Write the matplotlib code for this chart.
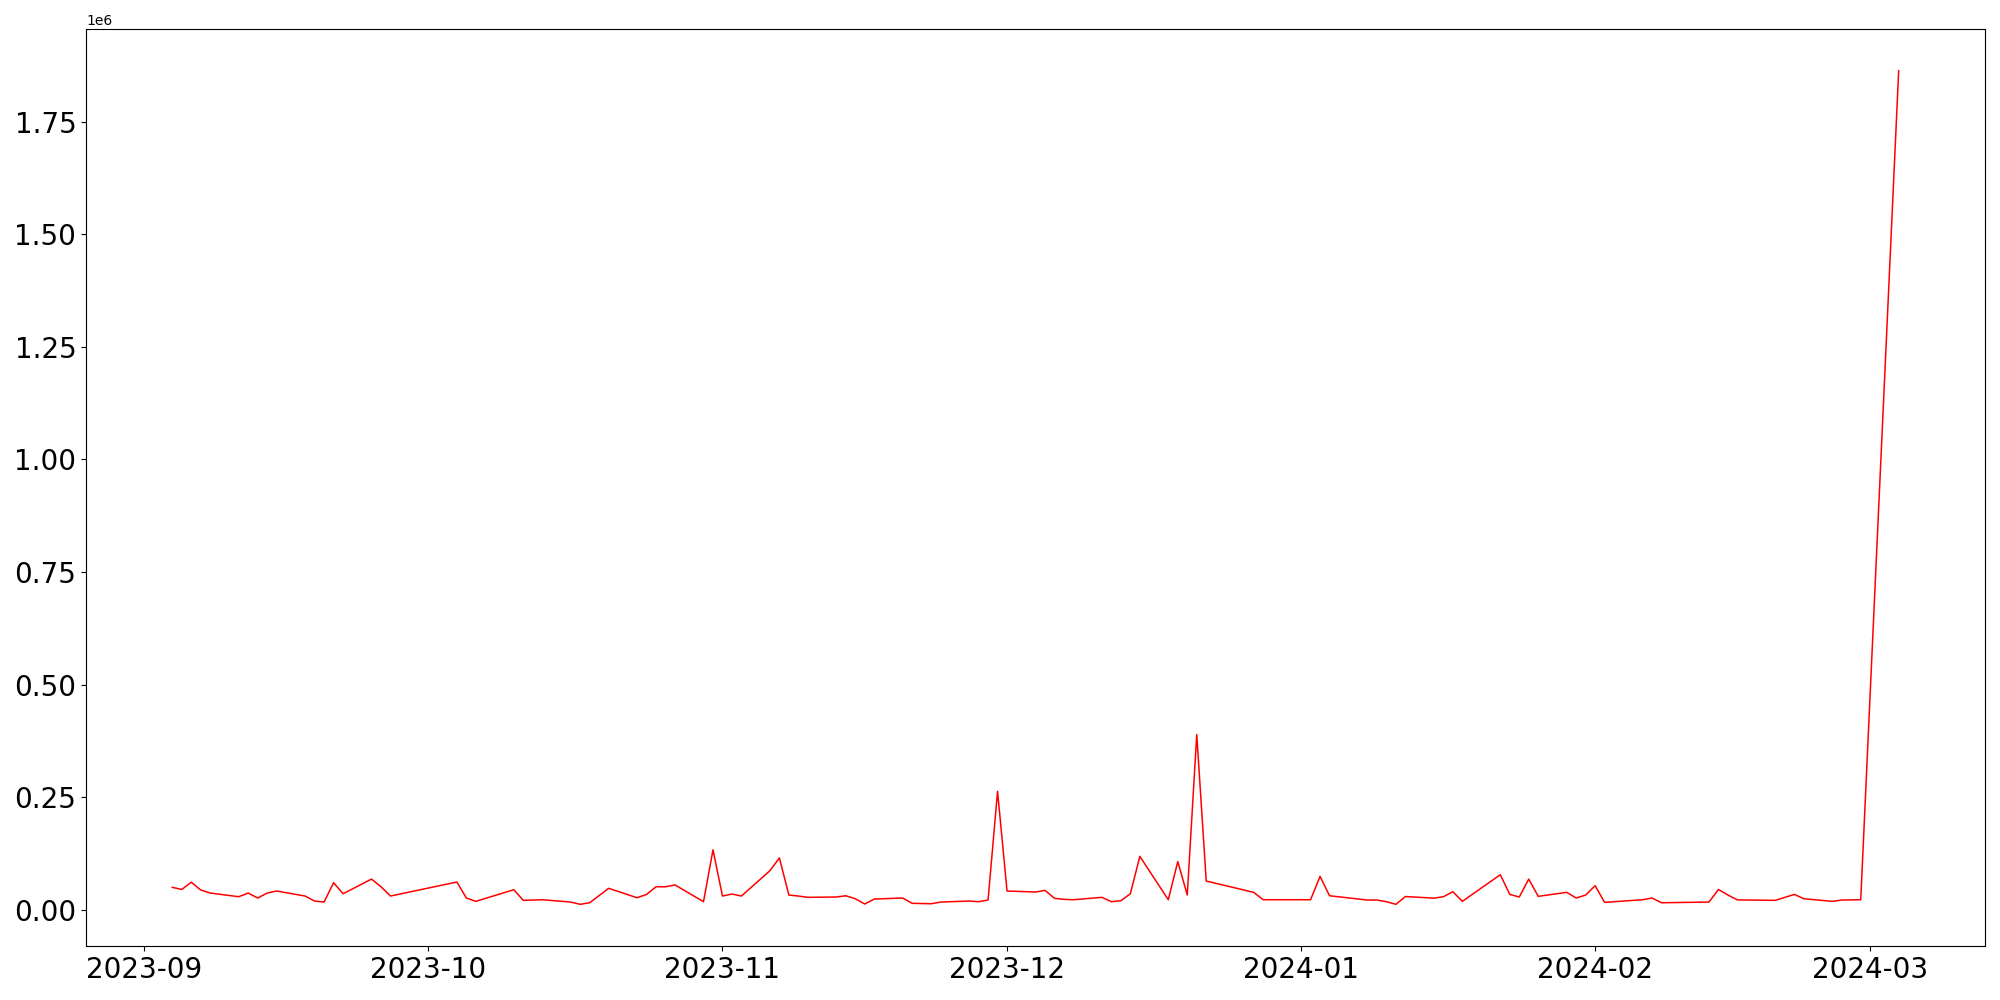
import matplotlib
matplotlib.use("Agg")
import matplotlib.pyplot as plt
import matplotlib.dates as mdates
import pandas as pd

dates = [
    "2023-09-04", "2023-09-05", "2023-09-06", "2023-09-07", "2023-09-08",
    "2023-09-11", "2023-09-12", "2023-09-13", "2023-09-14", "2023-09-15",
    "2023-09-18", "2023-09-19", "2023-09-20", "2023-09-21", "2023-09-22",
    "2023-09-25", "2023-09-26", "2023-09-27", "2023-10-04", "2023-10-05",
    "2023-10-06", "2023-10-10", "2023-10-11", "2023-10-13", "2023-10-16",
    "2023-10-17", "2023-10-18", "2023-10-20", "2023-10-23", "2023-10-24",
    "2023-10-25", "2023-10-26", "2023-10-27", "2023-10-30", "2023-10-31",
    "2023-11-01", "2023-11-02", "2023-11-03", "2023-11-06", "2023-11-07",
    "2023-11-08", "2023-11-09", "2023-11-10", "2023-11-13", "2023-11-14",
    "2023-11-15", "2023-11-16", "2023-11-17", "2023-11-20", "2023-11-21",
    "2023-11-23", "2023-11-24", "2023-11-27", "2023-11-28", "2023-11-29",
    "2023-11-30", "2023-12-01", "2023-12-04", "2023-12-05", "2023-12-06",
    "2023-12-07", "2023-12-08", "2023-12-11", "2023-12-12", "2023-12-13",
    "2023-12-14", "2023-12-15", "2023-12-18", "2023-12-19", "2023-12-20",
    "2023-12-21", "2023-12-22", "2023-12-27", "2023-12-28", "2024-01-02",
    "2024-01-03", "2024-01-04", "2024-01-08", "2024-01-09", "2024-01-10",
    "2024-01-11", "2024-01-12", "2024-01-15", "2024-01-16", "2024-01-17",
    "2024-01-18", "2024-01-22", "2024-01-23", "2024-01-24", "2024-01-25",
    "2024-01-26", "2024-01-29", "2024-01-30", "2024-01-31", "2024-02-01",
    "2024-02-02", "2024-02-06", "2024-02-07", "2024-02-08", "2024-02-13",
    "2024-02-14", "2024-02-15", "2024-02-16", "2024-02-20", "2024-02-22",
    "2024-02-23", "2024-02-26", "2024-02-27", "2024-02-29", "2024-03-04",
]

values = [
    49700, 45000, 61000, 43700, 37000,
    28900, 37000, 26000, 37000, 41500,
    30400, 19300, 17000, 60000, 35500,
    68000, 51000, 30400, 61500, 26000,
    18600, 44400, 20800, 22200, 17000,
    12000, 15500, 47500, 26600, 34000,
    51000, 51000, 55000, 17800, 133000,
    30400, 34800, 30400, 86600, 115000,
    32600, 30400, 27500, 28200, 31000,
    24400, 12700, 23700, 26000, 14200,
    13300, 17000, 19300, 17800, 21500,
    263000, 41500, 39300, 43000, 25300,
    23000, 22200, 27500, 17800, 20000,
    35500, 118500, 22200, 107000, 32600,
    389000, 63700, 38600, 22200, 22200,
    74000, 31000, 21500, 21500, 17800,
    12000, 29300, 25700, 28900, 40000,
    18600, 77700, 34000, 28200, 68000,
    29700, 38600, 26000, 32600, 53300,
    16300, 22200, 26000, 15500, 17000,
    45000, 32600, 21800, 20800, 34000,
    24400, 18600, 21500, 22200, 1863000,
]

x = pd.to_datetime(dates)

fig = plt.figure(figsize=(20, 10), dpi=100)
ax = fig.add_axes([0.043, 0.054, 0.9495, 0.917])
ax.plot(x, values, color="red", linewidth=1.1)

ax.xaxis.set_major_locator(mdates.MonthLocator())
ax.xaxis.set_major_formatter(mdates.DateFormatter("%Y-%m"))
ax.tick_params(axis="both", labelsize=20)

fig.savefig("out.png", dpi=100)
